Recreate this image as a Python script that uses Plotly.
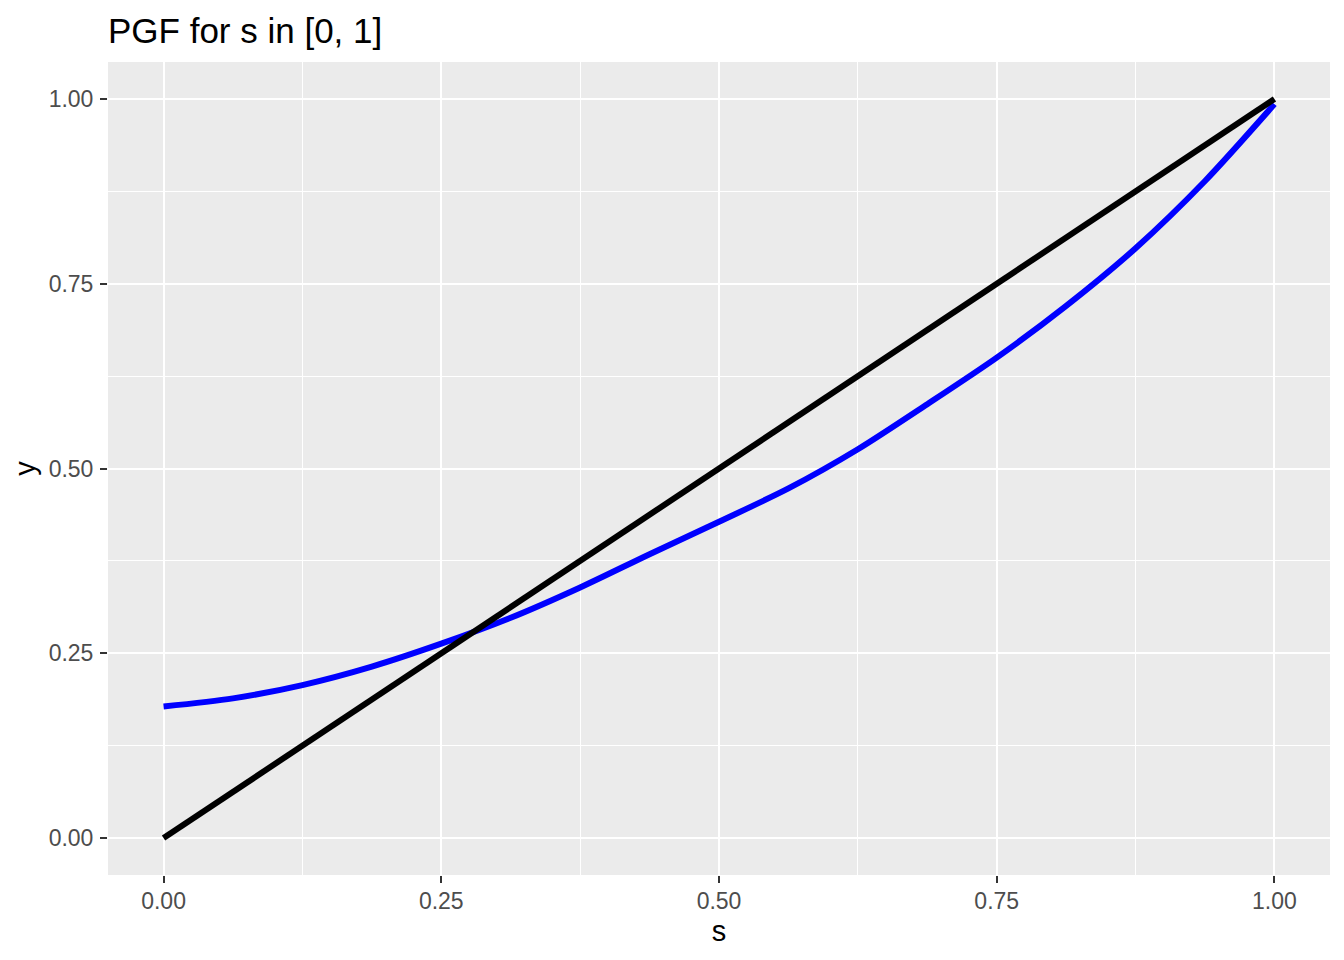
import plotly.graph_objects as go

# PGF curve values
s_values = [0.0, 0.0625, 0.125, 0.1875, 0.25, 0.3125, 0.375, 0.4375, 0.5,
            0.5625, 0.625, 0.6875, 0.75, 0.8125, 0.875, 0.9375, 1.0]
pgf_values = [0.178, 0.189, 0.207, 0.232, 0.263, 0.298, 0.339, 0.384, 0.428,
              0.473, 0.526, 0.587, 0.650, 0.720, 0.798, 0.889, 0.993]

# identity line y = s
diag_s = [0.0, 1.0]
diag_y = [0.0, 1.0]

tick_vals = [0.0, 0.25, 0.5, 0.75, 1.0]
tick_text = ["0.00", "0.25", "0.50", "0.75", "1.00"]
minor_vals = [0.125, 0.375, 0.625, 0.875]

FONT = "Liberation Sans, Arial, Helvetica, sans-serif"
OFF = 8  # page body margin offset

fig = go.Figure()
fig.add_trace(go.Scatter(x=s_values, y=pgf_values, mode="lines",
                         line=dict(color="#0000FF", width=6, shape="spline", smoothing=0.8),
                         showlegend=False))
fig.add_trace(go.Scatter(x=diag_s, y=diag_y, mode="lines",
                         line=dict(color="#000000", width=6),
                         showlegend=False))

axis_common = dict(
    tickvals=tick_vals, ticktext=tick_text,
    showgrid=True, gridcolor="white", gridwidth=2,
    zeroline=False, showline=False,
    ticks="outside", ticklen=7, tickwidth=2, tickcolor="#333333",
    tickfont=dict(family=FONT, size=23, color="#4D4D4D"),
    minor=dict(tickvals=minor_vals, showgrid=True, gridcolor="white", gridwidth=1, ticks=""),
)

fig.update_xaxes(range=[-0.05, 1.05],
                 title=dict(text="s", font=dict(family=FONT, size=29, color="black"), standoff=8),
                 ticklabelstandoff=-2, **axis_common)
fig.update_yaxes(range=[-0.05, 1.05],
                 title=dict(text="y", font=dict(family=FONT, size=29, color="black"), standoff=4),
                 ticklabelstandoff=2, **axis_common)

fig.update_layout(
    width=1344, height=960,
    margin=dict(l=108 - OFF, r=14 + OFF, t=62 - OFF, b=85 + OFF),
    paper_bgcolor="white", plot_bgcolor="#EBEBEB",
    title=dict(text="PGF for s in [0, 1]", font=dict(family=FONT, size=35, color="black"),
               x=(108 - OFF) / 1344, xref="container", xanchor="left",
               y=1 - (31 - OFF) / 960, yref="container", yanchor="middle"),
    font=dict(family=FONT),
)

fig.write_html("out.html")
